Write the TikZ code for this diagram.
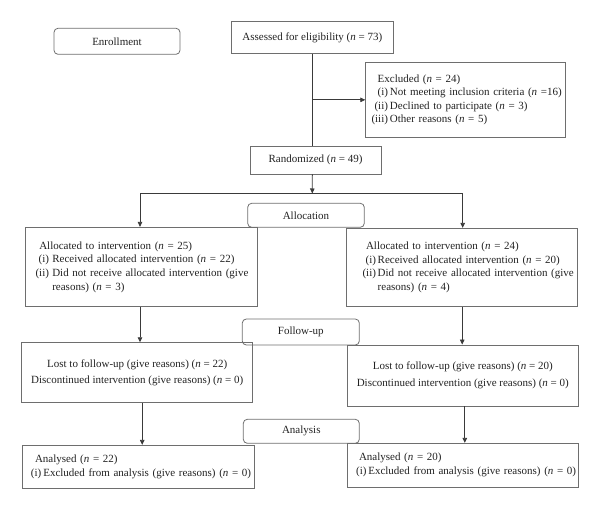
\documentclass[tikz,border=0pt]{standalone}
\usepackage{fontspec}
\setmainfont{Liberation Serif}
\usetikzlibrary{arrows.meta}
\definecolor{boxgray}{HTML}{6E6E6E}
\definecolor{linegray}{HTML}{3A3A3A}
\definecolor{txt}{HTML}{222222}
\newcommand{\nn}{\textit{n}}
\newcommand{\lab}[2]{\makebox[#1][r]{#2}}
\begin{document}
\begin{tikzpicture}[x=1pt,y=-1pt,
  fnt/.style={font=\fontsize{11}{13.6}\selectfont, text=txt},
  box/.style={draw=boxgray, line width=0.8pt, fnt, inner ysep=0pt},
  rbox/.style={box, rounded corners=4pt, align=center},
  cbox/.style={box, align=center, font=\fontsize{11}{16.6}\selectfont},
  lbox/.style={box, align=left},
  conn/.style={draw=linegray, line width=0.8pt},
  arr/.style={conn, -{Triangle[length=5pt,width=4.5pt]}}]
\useasboundingbox (0,0) rectangle (600,510);

% enrollment
\node[rbox, minimum width=126pt, minimum height=26pt] (enrol) at (117,41.3) {Enrollment};
\node[box, align=center, minimum width=162.7pt, minimum height=31.6pt] (assess) at (312.35,37.5)
  {Assessed for eligibility (\nn{} = 73)};
\node[lbox, inner xsep=5.3pt, text width=189.4pt, minimum height=74.3pt] (excl) at (465.7,99.85)
  {\mbox{\hspace*{6.7pt}Excluded (\nn{} = 24)}\\
   \mbox{\lab{17pt}{(i)}\hspace{2pt}Not meeting inclusion criteria (\nn{} =16)}\\
   \mbox{\lab{17pt}{(ii)}\hspace{2pt}Declined to participate (\nn{} = 3)}\\
   \mbox{\lab{17pt}{(iii)}\hspace{2pt}Other reasons (\nn{} = 5)}};
\node[box, align=center, minimum width=131pt, minimum height=28pt] (rand) at (315.5,160)
  {Randomized (\nn{} = 49)};

% allocation
\node[rbox, minimum width=116.6pt, minimum height=24pt] (allocation) at (306,215.3) {Allocation};
\node[lbox, inner xsep=9.7pt, text width=212.6pt, minimum height=79.4pt] (allocL) at (141.3,267)
  {\mbox{\hspace*{4.3pt}Allocated to intervention (\nn{} = 25)}\\
   \mbox{\lab{14pt}{(i)}\hspace{3.3pt}Received allocated intervention (\nn{} = 22)}\\
   \mbox{\lab{14pt}{(ii)}\hspace{3.3pt}Did not receive allocated intervention (give}\\
   \mbox{\hspace*{17.3pt}reasons) (\nn{} = 3)}};
\node[lbox, inner xsep=15.3pt, text width=200.4pt, minimum height=78.4pt] (allocR) at (462.2,267.5)
  {\mbox{\hspace*{4pt}Allocated to intervention (\nn{} = 24)}\\
   \mbox{\lab{14pt}{(i)}\hspace{1.7pt}Received allocated intervention (\nn{} = 20)}\\
   \mbox{\lab{14pt}{(ii)}\hspace{1.7pt}Did not receive allocated intervention (give}\\
   \mbox{\hspace*{15.7pt}reasons) (\nn{} = 4)}};

% follow-up
\node[rbox, minimum width=117pt, minimum height=26pt] (followup) at (300.8,332) {Follow-up};
\node[cbox, minimum width=231pt, minimum height=60pt] (fuL) at (137.2,372.7)
  {Lost to follow-up (give reasons) (\nn{} = 22)\\Discontinued intervention (give reasons) (\nn{} = 0)};
\node[cbox, minimum width=231pt, minimum height=61pt] (fuR) at (462.8,375.5)
  {Lost to follow-up (give reasons) (\nn{} = 20)\\Discontinued intervention (give reasons) (\nn{} = 0)};

% analysis
\node[rbox, minimum width=116pt, minimum height=24pt] (analysis) at (301.3,431.3) {Analysis};
\node[lbox, inner xsep=8pt, text width=215.3pt, minimum height=42.7pt] (anL) at (138.35,466.65)
  {\mbox{\hspace*{4.3pt}Analysed (\nn{} = 22)}\\
   \mbox{\lab{10.6pt}{(i)}\hspace{2pt}Excluded from analysis (give reasons) (\nn{} = 0)}};
\node[lbox, inner xsep=8.7pt, text width=213.6pt, minimum height=43.7pt] (anR) at (462.8,465.15)
  {\mbox{\hspace*{3pt}Analysed (\nn{} = 20)}\\
   \mbox{\lab{10.6pt}{(i)}\hspace{1.7pt}Excluded from analysis (give reasons) (\nn{} = 0)}};

% connectors
\draw[conn] (assess.south) -- (assess.south |- rand.north);
\coordinate (jx) at (assess.south |- excl.west);
\draw[arr] (jx) -- (excl.west);
\coordinate (split) at (312.3,193.5);
\draw[arr] (assess.south |- rand.south) -- (split);
\coordinate (sl) at (140,193.5);
\coordinate (sr) at (462.7,193.5);
\draw[conn] (sl) -- (sr);
\draw[arr] (sl) -- (sl |- allocL.north);
\draw[arr] (sr) -- (sr |- allocR.north);
\draw[arr] (sl |- allocL.south) -- (sl |- fuL.north);
\draw[arr] (allocR.south) -- (allocR.south |- fuR.north);
\draw[arr] ([xshift=5pt]fuL.south) -- ([xshift=5pt]fuL.south |- anL.north);
\draw[arr] ([xshift=2pt]fuR.south) -- ([xshift=2pt]fuR.south |- anR.north);
\end{tikzpicture}
\end{document}
